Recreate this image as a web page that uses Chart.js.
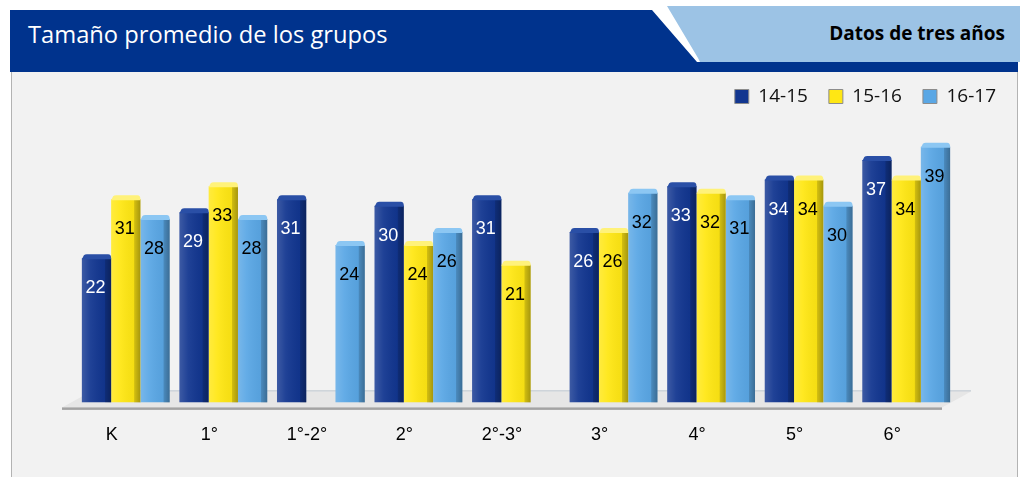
<!DOCTYPE html>
<html><head><meta charset="utf-8">
<script src="https://cdn.jsdelivr.net/npm/chart.js@4.4.1/dist/chart.umd.min.js"></script>
<style>
html,body{margin:0;padding:0;background:#fff;width:1022px;height:477px;overflow:hidden;position:relative}
#hdr{position:absolute;left:0;top:0}
#panel{position:absolute;left:11px;top:72px;width:1005px;height:410px;background:#f2f2f2;border-left:1px solid #b3b3b3;border-right:1px solid #b3b3b3}
#title{position:absolute;left:28px;top:22px;color:#fff;font:23.7px/24px 'Open Sans';white-space:nowrap}
#tab{position:absolute;right:17px;top:24px;color:#000;font:bold 19px/19px 'Open Sans';white-space:nowrap}
#c{position:absolute;left:0;top:0}
</style></head>
<body>
<svg id="hdr" width="1022" height="80">
  <polygon points="10,10 652,10 697,62 1018,62 1018,72 10,72" fill="#00338d"/>
  <polygon points="667,6 1020,6 1020,62 700,62 698,58" fill="#9cc3e5"/>
</svg>
<div id="panel"></div>
<div id="title">Tamaño promedio de los grupos</div>
<div id="tab">Datos de tres años</div>
<canvas id="c" width="1022" height="477"></canvas>
<script>
const categories = ['K', '1°', '1°-2°', '2°', '2°-3°', '3°', '4°', '5°', '6°'];
const seriesNames = ['14-15', '15-16', '16-17'];
const values1415 = [22, 29, 31, 30, 31, 26, 33, 34, 37];
const values1516 = [31, 33, null, 24, 21, 26, 32, 34, 34];
const values1617 = [28, 28, 24, 26, null, 32, 31, 30, 39];

const baseColors = ['#123690', '#ffe714', '#5aa7e5'];
const capColors = ['#2a4fa6', '#fff27a', '#8cc7f3'];
const labelColors = ['#ffffff', '#000000', '#000000'];

const floorPlugin = {
  id: 'floor',
  beforeDatasetsDraw(chart) {
    const {ctx, chartArea: a} = chart;
    ctx.save();
    ctx.beginPath();
    ctx.moveTo(a.left - 15, a.bottom + 5);
    ctx.lineTo(a.right - 13, a.bottom + 5);
    ctx.lineTo(a.right + 16, a.bottom - 11);
    ctx.lineTo(a.left + 14, a.bottom - 11);
    ctx.closePath();
    ctx.fillStyle = '#e6e6e6';
    ctx.fill();
    ctx.strokeStyle = '#b9c3cc';
    ctx.lineWidth = 1;
    ctx.beginPath();
    ctx.moveTo(a.left + 14, a.bottom - 11.5);
    ctx.lineTo(a.right + 16, a.bottom - 11.5);
    ctx.stroke();
    ctx.fillStyle = '#a3a3a3';
    ctx.fillRect(a.left - 15, a.bottom + 5, (a.right - 13) - (a.left - 15), 2.5);
    ctx.restore();
  }
};

const bars3dPlugin = {
  id: 'bars3d',
  afterDatasetsDraw(chart) {
    const ctx = chart.ctx;
    ctx.save();
    chart.data.datasets.forEach((ds, di) => {
      const meta = chart.getDatasetMeta(di);
      meta.data.forEach((el, i) => {
        if (ds.data[i] == null) return;
        const {x, y, base, width} = el.getProps(['x', 'y', 'base', 'width'], true);
        const l = x - width / 2, r = x + width / 2;
        const g = ctx.createLinearGradient(l, 0, r, 0);
        g.addColorStop(0, 'rgba(255,255,255,0.18)');
        g.addColorStop(0.3, 'rgba(255,255,255,0.06)');
        g.addColorStop(0.78, 'rgba(0,0,0,0.04)');
        g.addColorStop(0.8, 'rgba(0,0,0,0.18)');
        g.addColorStop(1, 'rgba(0,0,0,0.35)');
        ctx.fillStyle = g;
        ctx.fillRect(l, y, width, base - y);
        ctx.beginPath();
        ctx.moveTo(l, y + 1);
        ctx.lineTo(l + 2, y - 3);
        ctx.quadraticCurveTo(l + 3, y - 4, l + 5, y - 4);
        ctx.lineTo(r - 3, y - 4);
        ctx.quadraticCurveTo(r, y - 4, r, y);
        ctx.lineTo(r, y + 1);
        ctx.closePath();
        ctx.fillStyle = capColors[di];
        ctx.fill();
      });
    });
    ctx.font = '18px "Liberation Sans", Arial, sans-serif';
    ctx.textAlign = 'center';
    ctx.textBaseline = 'middle';
    chart.data.datasets.forEach((ds, di) => {
      const meta = chart.getDatasetMeta(di);
      meta.data.forEach((el, i) => {
        if (ds.data[i] == null) return;
        const {x, y} = el.getProps(['x', 'y'], true);
        ctx.fillStyle = labelColors[di];
        ctx.fillText(String(ds.data[i]), x - 1, y + 30);
      });
    });
    ctx.restore();
  }
};

new Chart(document.getElementById('c'), {
  type: 'bar',
  data: {
    labels: categories,
    datasets: [
      {label: seriesNames[0], data: values1415, backgroundColor: baseColors[0]},
      {label: seriesNames[1], data: values1516, backgroundColor: baseColors[1]},
      {label: seriesNames[2], data: values1617, backgroundColor: baseColors[2]}
    ]
  },
  plugins: [floorPlugin, bars3dPlugin],
  options: {
    responsive: false,
    animation: false,
    events: [],
    layout: {padding: {left: 5, right: 5, top: 66, bottom: 17}},
    datasets: {bar: {categoryPercentage: 0.9, barPercentage: 1.0, borderWidth: 0}},
    scales: {
      x: {
        grid: {display: false},
        border: {display: false},
        ticks: {
          font: {family: '"Liberation Sans", Arial, sans-serif', size: 18},
          color: '#000', padding: 14, labelOffset: -14, maxRotation: 0, autoSkip: false
        }
      },
      y: {
        min: 0, max: 43.7,
        grid: {display: false},
        border: {display: false},
        ticks: {display: false},
        afterFit(s) { s.width = 72; }
      },
      y2: {
        type: 'linear', position: 'right',
        grid: {display: false},
        border: {display: false},
        ticks: {display: false},
        afterFit(s) { s.width = 62; }
      }
    },
    plugins: {
      tooltip: {enabled: false},
      legend: {
        position: 'top', align: 'end',
        labels: {
          boxWidth: 14, boxHeight: 14, padding: 21,
          font: {family: '"Open Sans"', size: 19},
          color: '#111',
          generateLabels(chart) {
            return chart.data.datasets.map((d, i) => ({
              text: d.label, fillStyle: d.backgroundColor, strokeStyle: '#8c8c8c',
              lineWidth: 1, hidden: false, datasetIndex: i, fontColor: '#111'
            }));
          }
        }
      }
    }
  }
});
</script>
</body></html>
